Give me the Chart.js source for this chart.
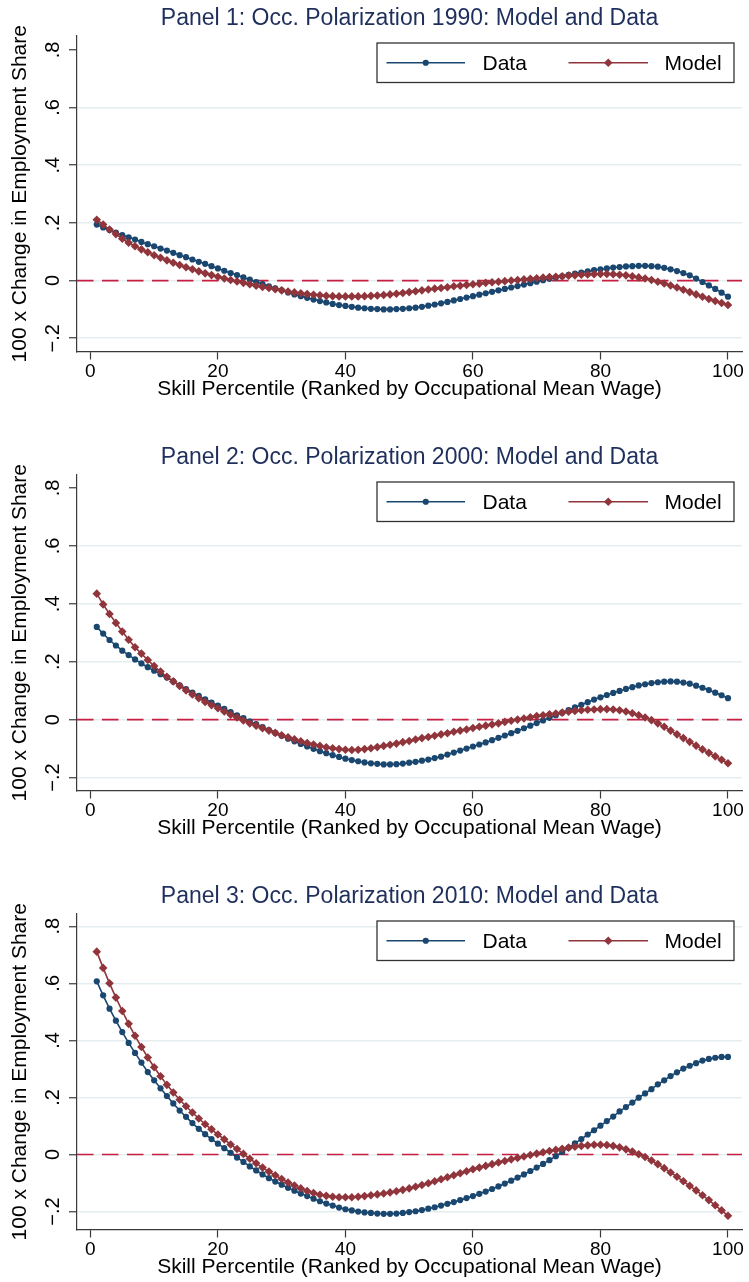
<!DOCTYPE html>
<html>
<head>
<meta charset="utf-8">
<title>Occupational Polarization: Model and Data</title>
<script src="https://cdn.jsdelivr.net/npm/chart.js@4.4.1/dist/chart.umd.min.js"></script>
<style>
  html, body { margin: 0; padding: 0; background: #ffffff; width: 749px; height: 1282px; overflow: hidden; }
  canvas { position: absolute; left: 0; }
</style>
</head>
<body>
<canvas id="panel1" width="749" height="439" style="top:0px"></canvas>
<canvas id="panel2" width="749" height="439" style="top:439px"></canvas>
<canvas id="panel3" width="749" height="439" style="top:878px"></canvas>
<script>
// Skill percentiles (x positions of the smoothed series)
const percentiles = [
  1, 2, 3, 4, 5, 6, 7, 8, 9, 10, 11, 12, 13, 14, 15, 16, 17, 18, 19, 20,
  21, 22, 23, 24, 25, 26, 27, 28, 29, 30, 31, 32, 33, 34, 35, 36, 37, 38, 39, 40,
  41, 42, 43, 44, 45, 46, 47, 48, 49, 50, 51, 52, 53, 54, 55, 56, 57, 58, 59, 60,
  61, 62, 63, 64, 65, 66, 67, 68, 69, 70, 71, 72, 73, 74, 75, 76, 77, 78, 79, 80,
  81, 82, 83, 84, 85, 86, 87, 88, 89, 90, 91, 92, 93, 94, 95, 96, 97, 98, 99, 100
];

// 100 x change in employment share, 1990
const data1990 = [
  0.194, 0.184, 0.175, 0.166, 0.158, 0.150, 0.142, 0.134, 0.126, 0.119,
  0.111, 0.104, 0.096, 0.088, 0.081, 0.073, 0.065, 0.058, 0.050, 0.042,
  0.034, 0.026, 0.019, 0.011, 0.003, -0.005, -0.012, -0.020, -0.027, -0.034,
  -0.041, -0.048, -0.054, -0.060, -0.066, -0.071, -0.076, -0.081, -0.085, -0.088,
  -0.091, -0.094, -0.096, -0.098, -0.099, -0.100, -0.100, -0.099, -0.098, -0.096,
  -0.094, -0.091, -0.087, -0.083, -0.079, -0.074, -0.069, -0.064, -0.059, -0.054,
  -0.049, -0.044, -0.039, -0.034, -0.029, -0.024, -0.019, -0.014, -0.009, -0.004,
  0.001, 0.006, 0.011, 0.015, 0.020, 0.024, 0.028, 0.032, 0.036, 0.039,
  0.042, 0.045, 0.047, 0.049, 0.050, 0.051, 0.051, 0.050, 0.048, 0.044,
  0.039, 0.033, 0.026, 0.018, 0.007, -0.005, -0.017, -0.029, -0.042, -0.056
];
const model1990 = [
  0.211, 0.194, 0.177, 0.161, 0.145, 0.131, 0.119, 0.108, 0.098, 0.088,
  0.079, 0.070, 0.062, 0.054, 0.046, 0.039, 0.032, 0.025, 0.019, 0.013,
  0.007, 0.002, -0.003, -0.008, -0.013, -0.018, -0.022, -0.026, -0.030, -0.034,
  -0.038, -0.041, -0.044, -0.047, -0.049, -0.051, -0.053, -0.054, -0.055, -0.055,
  -0.055, -0.055, -0.054, -0.053, -0.052, -0.050, -0.048, -0.046, -0.043, -0.040,
  -0.037, -0.034, -0.031, -0.028, -0.026, -0.023, -0.020, -0.018, -0.015, -0.013,
  -0.011, -0.008, -0.006, -0.004, -0.002, 0.000, 0.002, 0.004, 0.006, 0.008,
  0.010, 0.012, 0.013, 0.015, 0.017, 0.018, 0.020, 0.021, 0.022, 0.023,
  0.023, 0.022, 0.020, 0.018, 0.015, 0.011, 0.007, 0.002, -0.004, -0.010,
  -0.017, -0.024, -0.032, -0.040, -0.048, -0.056, -0.064, -0.071, -0.078, -0.085
];

// 2000
const data2000 = [
  0.320, 0.297, 0.275, 0.256, 0.238, 0.223, 0.208, 0.194, 0.181, 0.169,
  0.157, 0.145, 0.132, 0.118, 0.105, 0.093, 0.082, 0.070, 0.059, 0.048,
  0.037, 0.026, 0.015, 0.005, -0.006, -0.016, -0.026, -0.036, -0.046, -0.056,
  -0.066, -0.075, -0.084, -0.093, -0.101, -0.109, -0.116, -0.123, -0.129, -0.135,
  -0.140, -0.144, -0.148, -0.151, -0.153, -0.155, -0.155, -0.154, -0.152, -0.149,
  -0.146, -0.142, -0.138, -0.133, -0.128, -0.121, -0.114, -0.107, -0.100, -0.093,
  -0.086, -0.079, -0.071, -0.063, -0.055, -0.047, -0.039, -0.030, -0.021, -0.012,
  -0.003, 0.006, 0.015, 0.024, 0.033, 0.042, 0.051, 0.060, 0.069, 0.077,
  0.085, 0.092, 0.099, 0.106, 0.112, 0.118, 0.122, 0.126, 0.129, 0.131,
  0.132, 0.131, 0.128, 0.124, 0.117, 0.110, 0.102, 0.093, 0.084, 0.074
];
const model2000 = [
  0.435, 0.398, 0.365, 0.334, 0.304, 0.276, 0.250, 0.228, 0.206, 0.185,
  0.166, 0.148, 0.132, 0.116, 0.101, 0.087, 0.074, 0.061, 0.050, 0.039,
  0.028, 0.017, 0.007, -0.003, -0.013, -0.021, -0.030, -0.038, -0.046, -0.054,
  -0.061, -0.068, -0.075, -0.081, -0.086, -0.091, -0.096, -0.099, -0.102, -0.104,
  -0.105, -0.104, -0.102, -0.099, -0.095, -0.091, -0.087, -0.083, -0.078, -0.074,
  -0.069, -0.064, -0.060, -0.056, -0.051, -0.047, -0.042, -0.038, -0.034, -0.029,
  -0.025, -0.021, -0.017, -0.013, -0.008, -0.004, 0.000, 0.004, 0.008, 0.012,
  0.015, 0.018, 0.021, 0.024, 0.027, 0.030, 0.032, 0.034, 0.035, 0.036,
  0.036, 0.035, 0.032, 0.028, 0.022, 0.015, 0.007, -0.002, -0.013, -0.025,
  -0.038, -0.051, -0.064, -0.077, -0.090, -0.103, -0.115, -0.127, -0.139, -0.151
];

// 2010
const data2010 = [
  0.607, 0.558, 0.511, 0.469, 0.429, 0.391, 0.356, 0.322, 0.289, 0.260,
  0.232, 0.205, 0.179, 0.154, 0.132, 0.110, 0.090, 0.071, 0.054, 0.038,
  0.022, 0.006, -0.011, -0.026, -0.042, -0.056, -0.070, -0.083, -0.095, -0.106,
  -0.117, -0.127, -0.137, -0.146, -0.155, -0.164, -0.172, -0.179, -0.186, -0.192,
  -0.196, -0.200, -0.203, -0.205, -0.207, -0.208, -0.208, -0.207, -0.205, -0.202,
  -0.199, -0.195, -0.190, -0.185, -0.179, -0.173, -0.167, -0.160, -0.153, -0.146,
  -0.138, -0.130, -0.121, -0.112, -0.102, -0.092, -0.081, -0.070, -0.058, -0.046,
  -0.033, -0.020, -0.006, 0.009, 0.024, 0.039, 0.054, 0.070, 0.085, 0.101,
  0.117, 0.133, 0.151, 0.166, 0.182, 0.199, 0.214, 0.229, 0.246, 0.260,
  0.275, 0.288, 0.301, 0.311, 0.320, 0.329, 0.335, 0.339, 0.342, 0.342
];
const model2010 = [
  0.711, 0.654, 0.600, 0.550, 0.503, 0.458, 0.416, 0.377, 0.340, 0.306,
  0.274, 0.244, 0.217, 0.192, 0.169, 0.147, 0.126, 0.106, 0.088, 0.070,
  0.053, 0.035, 0.019, 0.002, -0.015, -0.031, -0.046, -0.060, -0.073, -0.086,
  -0.098, -0.109, -0.119, -0.128, -0.135, -0.141, -0.145, -0.148, -0.150, -0.150,
  -0.150, -0.148, -0.146, -0.143, -0.140, -0.137, -0.133, -0.129, -0.124, -0.119,
  -0.113, -0.107, -0.101, -0.094, -0.087, -0.080, -0.073, -0.066, -0.059, -0.052,
  -0.046, -0.040, -0.034, -0.028, -0.023, -0.017, -0.012, -0.007, -0.002, 0.003,
  0.008, 0.012, 0.016, 0.020, 0.024, 0.027, 0.030, 0.032, 0.034, 0.034,
  0.033, 0.030, 0.025, 0.018, 0.010, 0.001, -0.009, -0.021, -0.034, -0.048,
  -0.063, -0.078, -0.094, -0.110, -0.126, -0.143, -0.160, -0.178, -0.196, -0.215
];

const panelTitles = [
  'Panel 1: Occ. Polarization 1990: Model and Data',
  'Panel 2: Occ. Polarization 2000: Model and Data',
  'Panel 3: Occ. Polarization 2010: Model and Data'
];
const seriesNames = ['Data', 'Model'];
const xTickValues = [0, 20, 40, 60, 80, 100];
const yTickValues = [-0.2, 0, 0.2, 0.4, 0.6, 0.8];
const yTickLabels = ['\u2212.2', '0', '.2', '.4', '.6', '.8'];
const xAxisTitle = 'Skill Percentile (Ranked by Occupational Mean Wage)';
const yAxisTitle = '100 x Change in Employment Share';
const xRange = [-2.1, 102.2];
const yRanges = [[-0.246, 0.848], [-0.245, 0.845], [-0.263, 0.843]];

const FONT = "'Liberation Sans', Arial, Helvetica, sans-serif";
const NAVY = '#1a476f';
const MAROON = '#90353b';
const AXIS = '#3a3a3a';
const GRID = '#e4edf0';
const REFLINE = '#c81e41';

Chart.defaults.font.family = FONT;
Chart.defaults.color = '#000000';

// Panel heading centred over the plot region
const panelTitlePlugin = {
  id: 'panelTitle',
  afterDraw(chart, args, opts) {
    const { ctx, chartArea } = chart;
    ctx.save();
    ctx.font = '23px ' + FONT;
    ctx.fillStyle = '#1f2f5c';
    ctx.textAlign = 'center';
    ctx.textBaseline = 'alphabetic';
    ctx.fillText(opts.text, (chartArea.left + chartArea.right) / 2, 25);
    ctx.restore();
  }
};

// Dashed horizontal reference line at zero
const zeroLinePlugin = {
  id: 'zeroLine',
  beforeDatasetsDraw(chart) {
    const { ctx, chartArea, scales } = chart;
    const y = scales.y.getPixelForValue(0);
    ctx.save();
    ctx.strokeStyle = REFLINE;
    ctx.lineWidth = 1.7;
    ctx.setLineDash([16.5, 8.5]);
    ctx.beginPath();
    ctx.moveTo(chartArea.left, y);
    ctx.lineTo(chartArea.right, y);
    ctx.stroke();
    ctx.restore();
  }
};

// Boxed legend in the upper right of the plot region
const boxLegendPlugin = {
  id: 'boxLegend',
  afterDatasetsDraw(chart) {
    const { ctx, chartArea } = chart;
    const w = 357, h = 39.5;
    const left = chartArea.right - 8 - w;
    const top = chartArea.top + 7;
    const cy = top + h / 2;
    ctx.save();
    ctx.fillStyle = '#ffffff';
    ctx.fillRect(left, top, w, h);
    ctx.strokeStyle = '#333333';
    ctx.lineWidth = 1.3;
    ctx.strokeRect(left, top, w, h);
    const slots = [
      { x0: left + 9.5, x1: left + 88, tx: left + 105.5 },
      { x0: left + 191.5, x1: left + 271, tx: left + 287.5 }
    ];
    chart.data.datasets.forEach((ds, i) => {
      const s = slots[i];
      ctx.strokeStyle = ds.borderColor;
      ctx.lineWidth = 1.6;
      ctx.beginPath();
      ctx.moveTo(s.x0, cy);
      ctx.lineTo(s.x1, cy);
      ctx.stroke();
      ctx.fillStyle = ds.pointBackgroundColor;
      ctx.strokeStyle = ds.pointBackgroundColor;
      Chart.helpers.drawPoint(ctx, {
        pointStyle: ds.pointStyle, radius: ds.pointRadius, rotation: 0, borderWidth: 0
      }, (s.x0 + s.x1) / 2, cy);
      ctx.fillStyle = '#000000';
      ctx.font = '21px ' + FONT;
      ctx.textAlign = 'left';
      ctx.textBaseline = 'middle';
      ctx.fillText(ds.label, s.tx, cy + 1);
    });
    ctx.restore();
  }
};

function makePanel(canvasId, index, dataValues, modelValues) {
  const showTopGrid = index === 2;
  return new Chart(document.getElementById(canvasId), {
    type: 'line',
    data: {
      datasets: [
        {
          label: seriesNames[0],
          data: percentiles.map((p, i) => ({ x: p, y: dataValues[i] })),
          borderColor: NAVY,
          borderWidth: 1.6,
          pointStyle: 'circle',
          pointRadius: 3.1,
          pointBackgroundColor: NAVY,
          pointBorderWidth: 0,
          order: 2
        },
        {
          label: seriesNames[1],
          data: percentiles.map((p, i) => ({ x: p, y: modelValues[i] })),
          borderColor: MAROON,
          borderWidth: 1.6,
          pointStyle: 'rectRot',
          pointRadius: 4.3,
          pointBackgroundColor: MAROON,
          pointBorderWidth: 0,
          order: 1
        }
      ]
    },
    options: {
      responsive: false,
      animation: false,
      devicePixelRatio: 1,
      layout: { padding: { top: 36, right: 7, bottom: 37.5, left: 0 } },
      plugins: {
        legend: { display: false },
        tooltip: { enabled: false },
        panelTitle: { text: panelTitles[index] }
      },
      scales: {
        x: {
          type: 'linear',
          position: 'bottom',
          min: xRange[0],
          max: xRange[1],
          afterBuildTicks: (scale) => { scale.ticks = xTickValues.map(v => ({ value: v })); },
          afterFit: (scale) => { scale.height = 50; },
          ticks: {
            autoSkip: false, maxRotation: 0, minRotation: 0, padding: 1,
            font: { size: 19 }, color: '#000000',
            callback: (v) => String(v)
          },
          grid: { drawOnChartArea: false, drawTicks: true, tickLength: 8, tickColor: AXIS, tickWidth: 1.2 },
          border: { display: true, color: AXIS, width: 1.2 },
          title: { display: true, text: xAxisTitle, font: { size: 21 }, color: '#000000', padding: { top: 0, bottom: 0 } }
        },
        y: {
          type: 'linear',
          position: 'left',
          min: yRanges[index][0],
          max: yRanges[index][1],
          afterBuildTicks: (scale) => { scale.ticks = yTickValues.map(v => ({ value: v })); },
          afterFit: (scale) => { scale.width = 77; },
          ticks: {
            autoSkip: false, minRotation: 90, maxRotation: 90, crossAlign: 'center', padding: 1.5,
            font: { size: 20 }, color: '#000000',
            callback: (v) => {
              const k = yTickValues.findIndex(t => Math.abs(t - v) < 1e-9);
              return k >= 0 ? yTickLabels[k] : '';
            }
          },
          grid: {
            drawOnChartArea: true, drawTicks: true, tickLength: 8, tickColor: AXIS, tickWidth: 1.2,
            lineWidth: 1.5,
            color: (c) => {
              if (c.tick && Math.abs(c.tick.value - 0.8) < 1e-9 && !showTopGrid) return 'rgba(0,0,0,0)';
              return GRID;
            }
          },
          border: { display: true, color: AXIS, width: 1.2 },
          title: { display: true, text: yAxisTitle, font: { size: 21 }, color: '#000000', padding: { top: 7.4, bottom: 0 } }
        }
      }
    },
    plugins: [panelTitlePlugin, zeroLinePlugin, boxLegendPlugin]
  });
}

makePanel('panel1', 0, data1990, model1990);
makePanel('panel2', 1, data2000, model2000);
makePanel('panel3', 2, data2010, model2010);
</script>
</body>
</html>
